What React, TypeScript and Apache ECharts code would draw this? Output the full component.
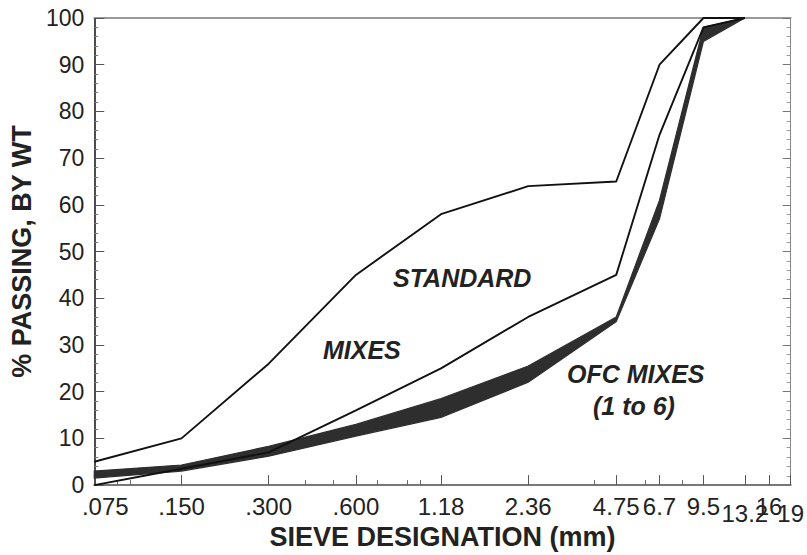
import React, { useEffect, useRef } from "react";
import * as echarts from "echarts";

// Sieve sizes (mm) and their tick labels
const sieveSizes = [0.075, 0.15, 0.3, 0.6, 1.18, 2.36, 4.75, 6.7, 9.5, 13.2, 16, 19];
const sieveLabels = [".075", ".150", ".300", ".600", "1.18", "2.36", "4.75", "6.7", "9.5", "13.2", "16", "19"];
const lowRowLabels = ["13.2", "19"];
const minorSieves = [0.09, 0.1, 0.4, 0.5, 0.71, 0.9, 1.0, 4.0, 6.0, 8.0];

// Gradation curves (% passing) at each sieve
const curveSizes = [0.075, 0.15, 0.3, 0.6, 1.18, 2.36, 4.75, 6.7, 9.5, 13.2];
const standardUpper = [5, 10, 26, 45, 58, 64, 65, 90, 100, 100];
const standardLower = [0, 3.5, 7, 16, 25, 36, 45, 75, 98, 100];
const ofcLower = [1.5, 3.0, 6.2, 10.5, 14.5, 22, 35, 57, 95, 100];
const ofcUpper = [3.0, 4.3, 8.3, 13, 18.5, 25.5, 36, 61, 98, 100];

const FONT = "Liberation Sans, Arial, Helvetica, sans-serif";

export default function App() {
  const ref = useRef<HTMLDivElement>(null);

  useEffect(() => {
    if (!ref.current) return;
    const chart = echarts.init(ref.current, undefined, { renderer: "svg" });
    const lg = (v: number) => Math.log10(v);
    const labelOf = (v: number) => {
      const i = sieveSizes.findIndex((s) => Math.abs(lg(s) - v) < 1e-6);
      return i >= 0 ? sieveLabels[i] : "";
    };
    const upperRow = sieveSizes.filter((_, i) => !lowRowLabels.includes(sieveLabels[i]));
    const lowRow = sieveSizes.filter((_, i) => lowRowLabels.includes(sieveLabels[i]));
    const pts = (vals: number[]) => curveSizes.map((s, i) => [lg(s), vals[i]]);
    const bandData = curveSizes.map((s, i) => [lg(s), ofcUpper[i], ofcLower[i]]);
    const xMin = lg(0.075);
    const xMax = lg(19);

    const baseX = {
      type: "value" as const,
      min: xMin,
      max: xMax,
      splitLine: { show: false },
    };

    chart.setOption({
      animation: false,
      backgroundColor: "#ffffff",
      grid: { left: 90, right: 14, top: 18, bottom: 68, containLabel: false },
      xAxis: [
        {
          ...baseX,
          position: "bottom",
          axisLine: { show: true, onZero: false, lineStyle: { color: "#777", width: 2 } },
          axisTick: {
            show: true,
            inside: true,
            length: 10,
            customValues: sieveSizes.map(lg),
            lineStyle: { color: "#555", width: 1 },
          },
          axisLabel: {
            customValues: upperRow.map(lg),
            formatter: (v: number) => {
              const t = labelOf(v);
              return t === ".075" ? "{first|.075}" : t;
            },
            fontSize: 24,
            fontFamily: FONT,
            color: "#222",
            margin: 9,
            rich: {
              first: { padding: [0, 0, 0, 22], fontSize: 24, fontFamily: FONT, color: "#222" },
            },
          },
          name: "SIEVE DESIGNATION (mm)",
          nameLocation: "middle",
          nameGap: 37,
          nameTextStyle: { fontSize: 27, fontWeight: "bold", fontFamily: FONT, color: "#222" },
        },
        {
          ...baseX,
          position: "bottom",
          axisLine: { show: false, onZero: false },
          axisTick: {
            show: true,
            inside: true,
            length: 5,
            customValues: minorSieves.map(lg),
            lineStyle: { color: "#666", width: 1 },
          },
          axisLabel: { show: false },
        },
        {
          ...baseX,
          position: "bottom",
          axisLine: { show: false, onZero: false },
          axisTick: { show: false },
          axisLabel: {
            customValues: lowRow.map(lg),
            formatter: (v: number) => labelOf(v),
            fontSize: 24,
            fontFamily: FONT,
            color: "#222",
            margin: 16,
          },
        },
        {
          ...baseX,
          position: "top",
          axisLine: { show: true, onZero: false, lineStyle: { color: "#999", width: 2 } },
          axisTick: { show: false },
          axisLabel: { show: false },
        },
      ],
      yAxis: [
        {
          type: "value",
          min: 0,
          max: 100,
          interval: 10,
          position: "left",
          axisLine: { show: true, onZero: false, lineStyle: { color: "#111", width: 1.5 } },
          axisTick: { show: true, inside: true, length: 10, lineStyle: { color: "#555" } },
          minorTick: { show: true, splitNumber: 5, length: 4, lineStyle: { color: "#777" } },
          axisLabel: { fontSize: 23, fontFamily: FONT, color: "#222", margin: 10 },
          splitLine: { show: false },
          name: "% PASSING, BY WT",
          nameLocation: "middle",
          nameGap: 56,
          nameRotate: 90,
          nameTextStyle: { fontSize: 27, fontWeight: "bold", fontFamily: FONT, color: "#222" },
        },
        {
          type: "value",
          min: 0,
          max: 100,
          interval: 10,
          position: "right",
          axisLine: { show: true, onZero: false, lineStyle: { color: "#888", width: 1 } },
          axisTick: { show: true, inside: true, length: 8, lineStyle: { color: "#777" } },
          minorTick: { show: true, splitNumber: 5, length: 4, lineStyle: { color: "#999" } },
          axisLabel: { show: false },
          splitLine: { show: false },
        },
      ],
      series: [
        {
          name: "OFC mixes (1 to 6)",
          type: "custom",
          xAxisIndex: 0,
          yAxisIndex: 0,
          data: bandData,
          encode: { x: 0, y: [1, 2] },
          renderItem: (params: any, api: any) => {
            if (params.dataIndex !== 0) return { type: "group", children: [] };
            const upper = bandData.map((d) => api.coord([d[0], d[1]]));
            const lower = bandData.map((d) => api.coord([d[0], d[2]])).reverse();
            return {
              type: "polygon",
              shape: { points: upper.concat(lower) },
              style: { fill: "#2e2e2e", stroke: "#2e2e2e", lineWidth: 1.2 },
            };
          },
          z: 2,
        },
        {
          name: "Standard upper",
          type: "line",
          data: pts(standardUpper),
          showSymbol: false,
          symbol: "none",
          lineStyle: { color: "#111", width: 1.9 },
          z: 3,
        },
        {
          name: "Standard lower",
          type: "line",
          data: pts(standardLower),
          showSymbol: false,
          symbol: "none",
          lineStyle: { color: "#111", width: 1.9 },
          z: 3,
        },
      ],
      graphic: [
        { type: "text", left: 393, top: 265, style: { text: "STANDARD", font: `italic bold 25px ${FONT}`, fill: "#222" } },
        { type: "text", left: 323, top: 337, style: { text: "MIXES", font: `italic bold 25px ${FONT}`, fill: "#222" } },
        { type: "text", left: 567, top: 361, style: { text: "OFC MIXES", font: `italic bold 25px ${FONT}`, fill: "#222" } },
        { type: "text", left: 593, top: 393, style: { text: "(1 to 6)", font: `italic bold 25px ${FONT}`, fill: "#222" } },
      ],
    });
    return () => chart.dispose();
  }, []);

  return (
    <div
      ref={ref}
      style={{ position: "absolute", left: 0, top: 0, width: 807, height: 555 }}
    />
  );
}
